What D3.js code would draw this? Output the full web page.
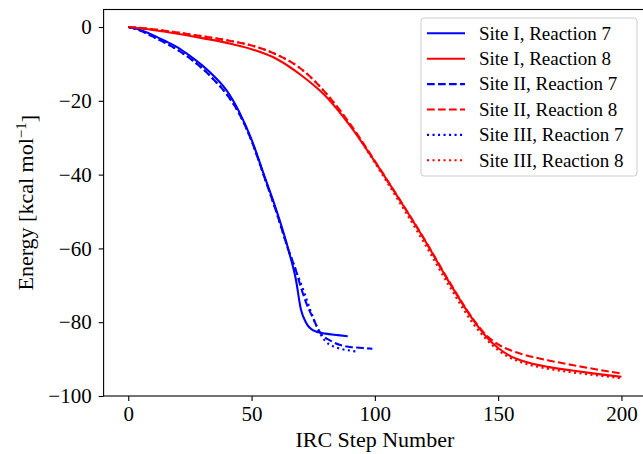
<!DOCTYPE html>
<html>
<head>
<meta charset="utf-8">
<script src="https://cdn.jsdelivr.net/npm/d3@7/dist/d3.min.js"></script>
<style>
  body { margin: 0; background: #fff; }
  text { font-family: "Liberation Serif", "DejaVu Serif", serif; fill: #000; }
</style>
</head>
<body>
<div id="chart"></div>
<script>
// IRC steps and energies (kcal/mol)
var site1_r7_steps  = [0, 5, 10, 15, 20, 25, 30, 35, 40, 45, 50, 55, 60, 65, 68, 70, 72, 75, 80, 85, 89];
var site1_r7_energy = [0, -0.8, -2.2, -3.8, -5.5, -7.8, -10.4, -13.5, -17.3, -23, -30.5, -40, -49.5, -60.5, -68.5, -76.5, -80, -82.2, -83.1, -83.5, -83.8];

var site2_r7_steps  = [0, 5, 10, 15, 20, 25, 30, 35, 40, 45, 50, 55, 60, 65, 68, 70, 72, 75, 78, 82, 86, 90, 95, 99];
var site2_r7_energy = [0, -1, -2.6, -4.3, -6.2, -8.5, -11.2, -14.5, -18.3, -23.5, -30.8, -40.3, -50, -60.5, -66, -70.5, -74.5, -79, -83, -85, -86.2, -86.7, -87, -87.2];

var site3_r7_steps  = [0, 5, 10, 15, 20, 25, 30, 35, 40, 45, 50, 55, 60, 65, 68, 71, 74, 77, 80, 83, 86, 90, 93];
var site3_r7_energy = [0, -1, -2.6, -4.3, -6.2, -8.5, -11.2, -14.5, -18.3, -23.5, -30.8, -40.3, -50, -60.5, -66, -71.3, -77, -82, -85.2, -86.5, -87.2, -87.7, -88];

var r8_steps = [0, 10, 20, 30, 40, 50, 60, 70, 80, 90, 100, 110, 120, 130, 140, 145, 150, 155, 160, 170, 180, 190, 200];
var site1_r8_energy = [0, -0.8, -1.8, -3, -4.3, -6, -8.6, -13, -18.7, -26.8, -36.5, -46.8, -57.5, -69, -79.5, -83.8, -87, -89.2, -90.5, -92.1, -93.1, -94, -94.8];
var site2_r8_energy = [0, -0.6, -1.5, -2.5, -3.6, -5, -7.4, -11.3, -17.8, -26.3, -36.3, -46.7, -57.4, -68.8, -79.3, -83.4, -86, -87.6, -88.7, -90.3, -91.6, -92.8, -93.9];
var site3_r8_energy = [0, -0.6, -1.5, -2.5, -3.6, -5, -7.4, -11.3, -17.8, -26.5, -36.8, -47.5, -58.5, -70, -80.5, -84.5, -87.6, -89.7, -91, -92.6, -93.6, -94.4, -95.2];

var series_labels = ["Site I, Reaction 7", "Site I, Reaction 8", "Site II, Reaction 7",
                     "Site II, Reaction 8", "Site III, Reaction 7", "Site III, Reaction 8"];

var x_ticks = [0, 50, 100, 150, 200];
var y_ticks = [0, -20, -40, -60, -80, -100];

var chart = {
  width: 643,
  height: 454,
  left: 103.6,
  right: 646.1,
  top: 9.5,
  bottom: 396
};

// dash patterns follow matplotlib defaults for a 2px line
var styles = {
  solid:  null,
  dashed: "7.7,3.3",
  dotted: "2.1,3.4"
};

function zip(xs, ys) {
  return xs.map(function(x, i) { return { s: x, e: ys[i] }; });
}

var series = [
  { label: series_labels[0], color: "#0000ff", dash: styles.solid,  data: zip(site1_r7_steps, site1_r7_energy) },
  { label: series_labels[1], color: "#ff0000", dash: styles.solid,  data: zip(r8_steps, site1_r8_energy) },
  { label: series_labels[2], color: "#0000ff", dash: styles.dashed, data: zip(site2_r7_steps, site2_r7_energy) },
  { label: series_labels[3], color: "#ff0000", dash: styles.dashed, data: zip(r8_steps, site2_r8_energy) },
  { label: series_labels[4], color: "#0000ff", dash: styles.dotted, data: zip(site3_r7_steps, site3_r7_energy) },
  { label: series_labels[5], color: "#ff0000", dash: styles.dotted, data: zip(r8_steps, site3_r8_energy) }
];

var x = d3.scaleLinear().domain([-10, 210]).range([chart.left, chart.right]);
var y = d3.scaleLinear().domain([-100, 4.75]).range([chart.bottom, chart.top]);

var svg = d3.select("#chart").append("svg")
  .attr("width", chart.width)
  .attr("height", chart.height);

svg.append("defs").append("clipPath")
  .attr("id", "plot-clip")
  .append("rect")
  .attr("x", chart.left)
  .attr("y", chart.top)
  .attr("width", chart.right - chart.left)
  .attr("height", chart.bottom - chart.top);

var line = d3.line()
  .x(function(d) { return x(d.s); })
  .y(function(d) { return y(d.e); })
  .curve(d3.curveMonotoneX);

svg.append("g")
  .attr("clip-path", "url(#plot-clip)")
  .selectAll("path")
  .data(series)
  .enter().append("path")
  .attr("d", function(d) { return line(d.data); })
  .attr("fill", "none")
  .attr("stroke", function(d) { return d.color; })
  .attr("stroke-width", 2.1)
  .attr("stroke-dasharray", function(d) { return d.dash; })
  .attr("stroke-linejoin", "round");

// axes
var x_axis = svg.append("g")
  .attr("transform", "translate(0," + chart.bottom + ")")
  .call(d3.axisBottom(x).tickValues(x_ticks).tickSize(4.9).tickPadding(5).tickSizeOuter(0));

var y_axis = svg.append("g")
  .attr("transform", "translate(" + chart.left + ",0)")
  .call(d3.axisLeft(y).tickValues(y_ticks).tickSize(4.9).tickPadding(7).tickSizeOuter(0));

[x_axis, y_axis].forEach(function(a) {
  a.select(".domain").remove();
  a.selectAll("line").attr("stroke", "#000").attr("stroke-width", 1.1);
  a.selectAll("text").style("font-size", "21px").attr("fill", "#000");
});

// frame (right edge falls off the canvas, as in the original)
svg.append("rect")
  .attr("x", chart.left)
  .attr("y", chart.top)
  .attr("width", chart.right - chart.left)
  .attr("height", chart.bottom - chart.top)
  .attr("fill", "none")
  .attr("stroke", "#000")
  .attr("stroke-width", 1.1);

svg.append("text")
  .attr("x", (chart.left + chart.right) / 2)
  .attr("y", 447)
  .attr("text-anchor", "middle")
  .style("font-size", "22px")
  .text("IRC Step Number");

var ylabel = svg.append("text")
  .attr("transform", "translate(33," + ((chart.top + chart.bottom) / 2) + ") rotate(-90)")
  .attr("text-anchor", "middle")
  .style("font-size", "22px");
ylabel.append("tspan").text("Energy [kcal mol");
ylabel.append("tspan").attr("dy", "-0.45em").style("font-size", "15px").text("\u22121");
ylabel.append("tspan").attr("dy", "0.45em").text("]");

// legend
var legend = {
  x: 421, y: 18, width: 216, height: 158,
  row0: 33.3, row_step: 25.4,
  handle_x1: 427, handle_x2: 465, text_x: 479
};

var lg = svg.append("g");

lg.append("rect")
  .attr("x", legend.x)
  .attr("y", legend.y)
  .attr("width", legend.width)
  .attr("height", legend.height)
  .attr("rx", 3)
  .attr("fill", "#fff")
  .attr("fill-opacity", 0.8)
  .attr("stroke", "#cccccc")
  .attr("stroke-width", 1);

var rows = lg.selectAll("g.row")
  .data(series)
  .enter().append("g")
  .attr("class", "row")
  .attr("transform", function(d, i) {
    return "translate(0," + (legend.row0 + i * legend.row_step) + ")";
  });

rows.append("line")
  .attr("x1", legend.handle_x1)
  .attr("x2", legend.handle_x2)
  .attr("stroke", function(d) { return d.color; })
  .attr("stroke-width", 2.1)
  .attr("stroke-dasharray", function(d) { return d.dash; });

rows.append("text")
  .attr("x", legend.text_x)
  .attr("dy", "0.33em")
  .style("font-size", "19px")
  .text(function(d) { return d.label; });
</script>
</body>
</html>
